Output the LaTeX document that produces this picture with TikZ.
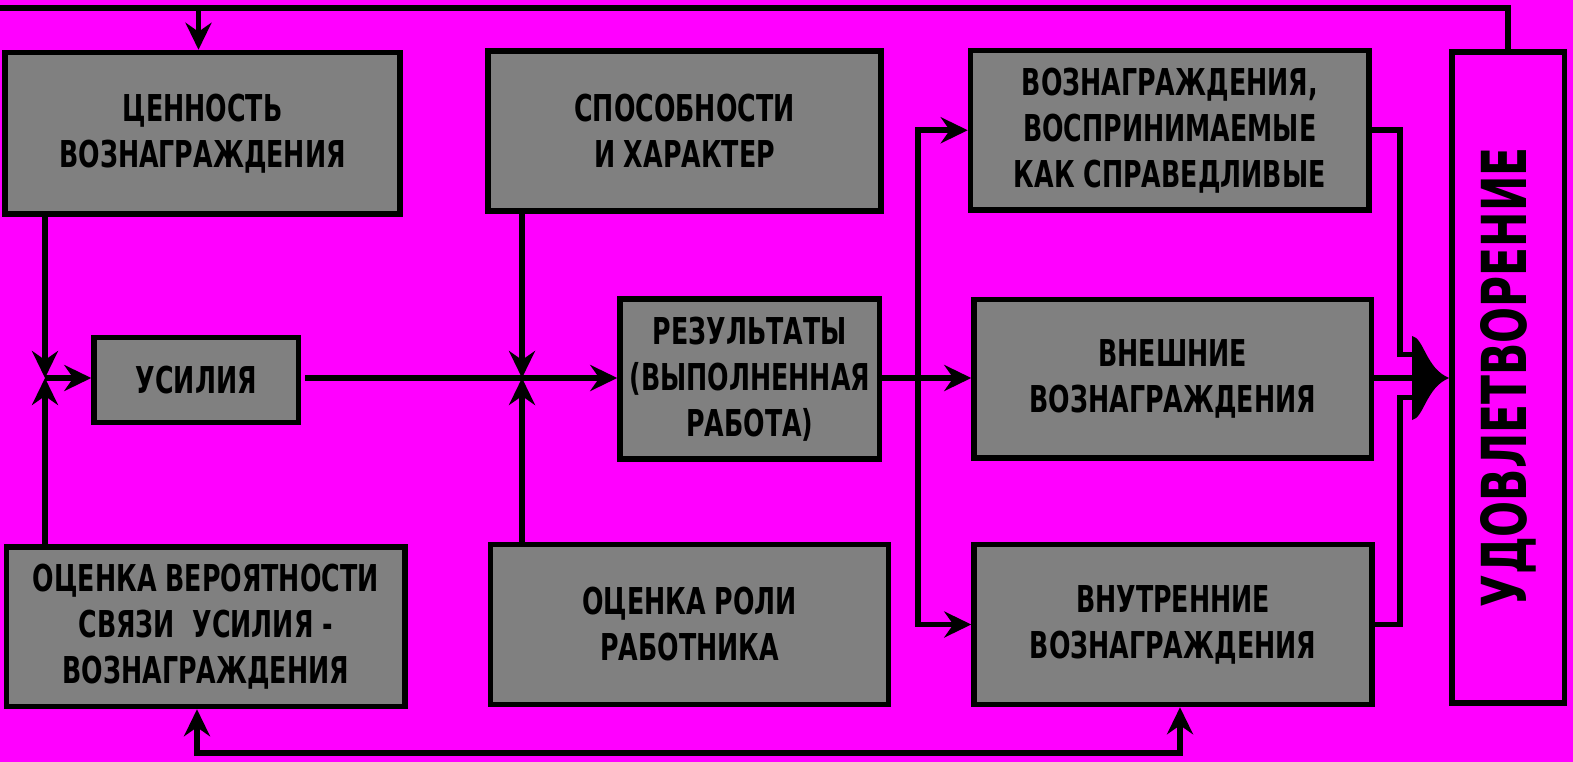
\documentclass[tikz,border=0pt]{standalone}
\usepackage{fontspec}
\newfontfamily\lbl{DejaVu Sans Condensed Bold}[FakeStretch=0.76]
\usetikzlibrary{arrows.meta,calc}
\definecolor{bg}{HTML}{FF00FF}
\definecolor{boxg}{HTML}{808080}
\begin{document}
\begin{tikzpicture}[x=1pt,y=-1pt,
  box/.style={draw=black, line width=5.5pt, fill=boxg, align=center, inner sep=0pt,
    font=\lbl\fontsize{37}{46}\selectfont, text=black},
  con/.style={line width=5.8pt, draw=black},
  arr/.style={con, -{Stealth[length=27pt,width=26pt,inset=9pt]}},
  arrboth/.style={con, {Stealth[length=27pt,width=26pt,inset=9pt]}-{Stealth[length=27pt,width=26pt,inset=9pt]}}
]
\fill[bg] (0,0) rectangle (1573,762);
\useasboundingbox (0,0) rectangle (1573,762);

% boxes
\node[box, minimum width=395pt, minimum height=161.5pt] (val) at (202.5,133.25) {ЦЕННОСТЬ\\ВОЗНАГРАЖДЕНИЯ};
\node[box, minimum width=393pt, minimum height=160pt] (abil) at (684.5,131) {СПОСОБНОСТИ\\И ХАРАКТЕР};
\node[box, minimum width=398.5pt, minimum height=159.5pt] (fair) at (1169.75,130.25) {ВОЗНАГРАЖДЕНИЯ,\\ВОСПРИНИМАЕМЫЕ\\КАК СПРАВЕДЛИВЫЕ};
\node[box, fill=bg, minimum width=112.5pt, minimum height=651pt] (udov) at (1508.25,377.5)
  {\rotatebox{90}{\fontsize{62}{62}\selectfont УДОВЛЕТВОРЕНИЕ}};
\node[box, minimum width=204.5pt, minimum height=85pt] (eff) at (196.25,380) {УСИЛИЯ};
\node[box, minimum width=259.5pt, minimum height=160pt] (res) at (749.75,379) {РЕЗУЛЬТАТЫ\\(ВЫПОЛНЕННАЯ\\РАБОТА)};
\node[box, minimum width=397.5pt, minimum height=158.5pt] (ext) at (1172.75,378.75) {ВНЕШНИЕ\\ВОЗНАГРАЖДЕНИЯ};
\node[box, minimum width=398.5pt, minimum height=159.5pt] (prob) at (205.75,626.75) {ОЦЕНКА ВЕРОЯТНОСТИ\\СВЯЗИ\ \ УСИЛИЯ -\\ВОЗНАГРАЖДЕНИЯ};
\node[box, minimum width=398pt, minimum height=160pt] (role) at (689.5,624.5) {ОЦЕНКА РОЛИ\\РАБОТНИКА};
\node[box, minimum width=398pt, minimum height=160pt] (intr) at (1173,624.5) {ВНУТРЕННИЕ\\ВОЗНАГРАЖДЕНИЯ};

% junction coordinates
\coordinate (j1) at (45,378);
\coordinate (j2) at (522,378);
\coordinate (fork) at (918,378);
\coordinate (topy) at (0,8);
\coordinate (ab) at (1412,378);
\coordinate (bl) at (197,753);
\coordinate (br) at (1180,753);

% top feedback
\draw[arr] (udov.north) |- (topy) -| ($(val.north)+(-4,0)$);
% into effort
\draw[arr] (val.south -| j1) -- (j1);
\draw[arr] (prob.north -| j1) -- (j1);
\draw[arr] (j1) -- (eff.west |- j1);
% effort to results
\draw[con, shorten <=4pt] (eff.east |- j2) -- (j2);
\draw[arr] (j2) -- (res.west |- j2);
\draw[arr] (abil.south -| j2) -- (j2);
\draw[arr] (role.north -| j2) -- (j2);
% results to rewards
\draw[arr] (res.east |- fork) -- (ext.west |- fork);
\draw[arr] (fork) |- (fair.west);
\draw[arr] (fork) |- (intr.west);
% rewards to satisfaction
\draw[con] (fair.east) -| ($(ab)+(-12,-23.5)$) -- ($(ab)+(1,-23.5)$);
\draw[con] (ext.east |- ab) -- ($(ab)+(1,0)$);
\draw[con] (intr.east) -| ($(ab)+(-12,19.5)$) -- ($(ab)+(1,19.5)$);
\fill[black] ($(ab)+(0,-42)$) .. controls ($(ab)+(12,-40)$) and ($(ab)+(14,-9)$) .. (udov.west |- ab)
  .. controls ($(ab)+(14,9)$) and ($(ab)+(12,40)$) .. ($(ab)+(0,42)$) -- cycle;
% bottom feedback
\draw[arrboth] (prob.south -| bl) -- (bl) -- (br) -- (intr.south -| br);
\end{tikzpicture}
\end{document}
